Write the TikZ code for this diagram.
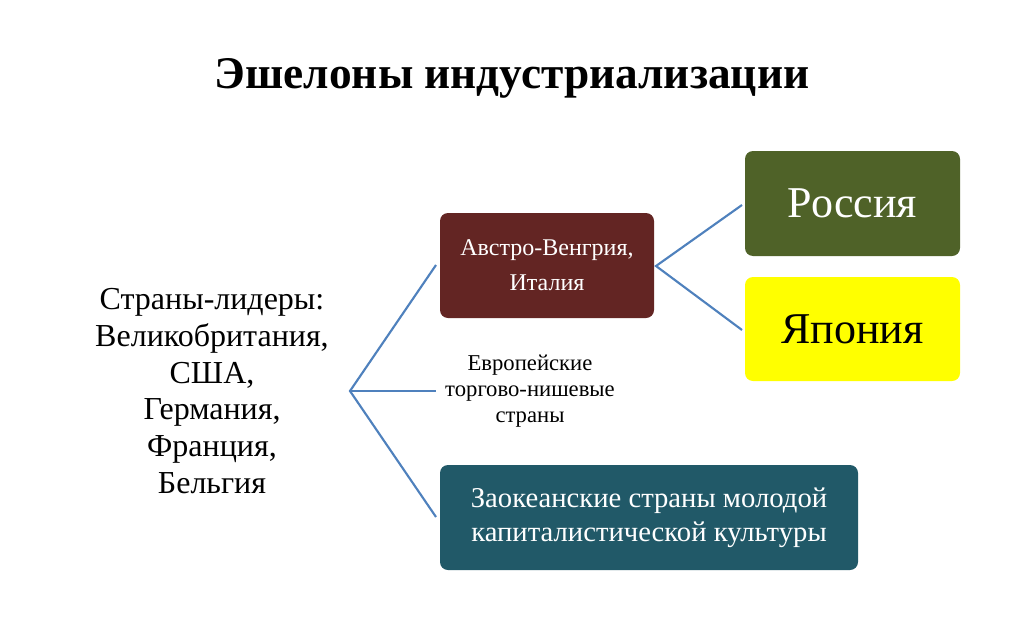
\documentclass[tikz,border=0pt]{standalone}
\usepackage{fontspec}
\setmainfont{Liberation Serif}
\begin{document}
\begin{tikzpicture}[x=0.75pt,y=-0.75pt,
  conn/.style={draw={rgb,255:red,79;green,129;blue,189},line width=1.6pt}]
\useasboundingbox (0,0) rectangle (1024,639);
\definecolor{cred}{RGB}{99,37,35}
\definecolor{colive}{RGB}{79,98,40}
\definecolor{cteal}{RGB}{33,89,104}
\definecolor{cyel}{RGB}{255,255,0}
\node[font=\fontsize{34}{40}\selectfont\bfseries] (title) at (512,78) {Эшелоны индустриализации};
\node[align=center,font=\fontsize{24}{27.5}\selectfont] (lead) at (212,391) {Страны-лидеры:\\Великобритания,\\США,\\Германия,\\Франция,\\Бельгия};
\fill[cred,rounded corners=6pt] (440,213) rectangle (654,318);
\node[align=center,text=white,font=\fontsize{18}{26}\selectfont] (ai) at (547,265.5) {Австро-Венгрия,\\Италия};
\fill[colive,rounded corners=6pt] (745,151) rectangle (960,256);
\node[text=white,font=\fontsize{33}{38}\selectfont] (ru) at (852.5,203.5) {Россия};
\fill[cyel,rounded corners=6pt] (745,277) rectangle (960,381);
\node[font=\fontsize{33}{38}\selectfont] (jp) at (852.5,329) {Япония};
\node[align=center,font=\fontsize{17}{19.5}\selectfont] (eu) at (530,391) {Европейские\\торгово-нишевые\\страны};
\fill[cteal,rounded corners=6pt] (440,465) rectangle (858,570);
\node[align=center,text=white,font=\fontsize{21.5}{25.5}\selectfont] (oc) at (649,517.5) {Заокеанские страны молодой\\капиталистической культуры};
\coordinate (j1) at (350,391);
\coordinate (a1) at (436,265);
\coordinate (a2) at (436,391);
\coordinate (a3) at (436,517);
\coordinate (j2) at (656,266);
\coordinate (b1) at (742,205);
\coordinate (b2) at (742,330);
\draw[conn] (a1) -- (j1) -- (a3);
\draw[conn] (j1) -- (a2);
\draw[conn] (b1) -- (j2) -- (b2);
\end{tikzpicture}
\end{document}
